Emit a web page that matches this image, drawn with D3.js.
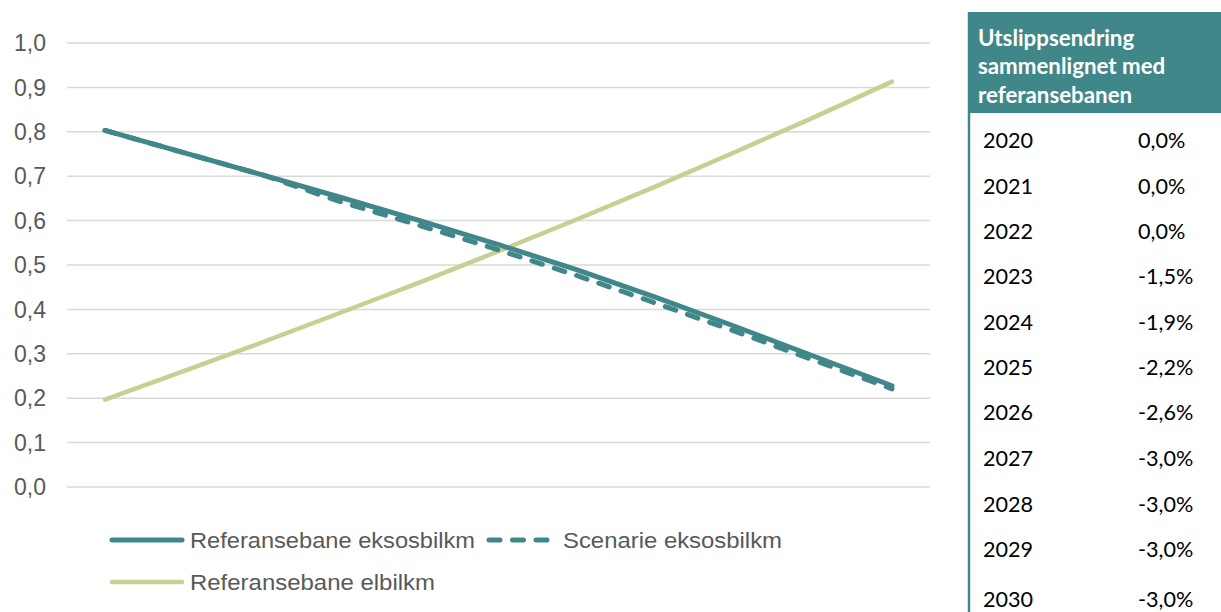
<!DOCTYPE html>
<html>
<head>
<meta charset="utf-8">
<script src="https://cdn.jsdelivr.net/npm/d3@7"></script>
<style>
  html, body { margin: 0; padding: 0; background: #fff; }
  svg { display: block; }
</style>
</head>
<body>
<svg id="chart" width="1221" height="612"></svg>
<script>
// ---- data ----
const years = [2020, 2021, 2022, 2023, 2024, 2025, 2026, 2027, 2028, 2029, 2030];
const refEksos = [0.803, 0.753, 0.703, 0.652, 0.600, 0.546, 0.489, 0.427, 0.362, 0.295, 0.228];
const scenEksos = [0.803, 0.753, 0.703, 0.642, 0.589, 0.534, 0.476, 0.414, 0.351, 0.286, 0.221];
const refEl = [0.197, 0.261, 0.326, 0.393, 0.461, 0.531, 0.603, 0.677, 0.754, 0.832, 0.913];
const yTicks = [0, 0.1, 0.2, 0.3, 0.4, 0.5, 0.6, 0.7, 0.8, 0.9, 1.0];
const seriesNames = ["Referansebane eksosbilkm", "Scenarie eksosbilkm", "Referansebane elbilkm"];
const tableTitle = ["Utslippsendring", "sammenlignet med", "referansebanen"];
const tableYears = ["2020", "2021", "2022", "2023", "2024", "2025", "2026", "2027", "2028", "2029", "2030"];
const tableValues = ["0,0%", "0,0%", "0,0%", "-1,5%", "-1,9%", "-2,2%", "-2,6%", "-3,0%", "-3,0%", "-3,0%", "-3,0%"];

// ---- styles ----
const teal = "#40878a";
const green = "#c8cf91";
const grid = "#d9d9d9";
const axisText = "#595959";

const svg = d3.select("#chart");

const x = d3.scalePoint().domain(years).range([105, 892]);
const y = d3.scaleLinear().domain([0, 1]).range([487, 43]);

// gridlines
svg.append("g").selectAll("line").data(yTicks).join("line")
  .attr("x1", 67).attr("x2", 930)
  .attr("y1", d => y(d)).attr("y2", d => y(d))
  .attr("stroke", grid).attr("stroke-width", 1.5);

// y axis labels
const fmt = d => d3.format(".1f")(d).replace(".", ",");
svg.append("g").selectAll("text").data(yTicks).join("text")
  .attr("x", 46).attr("y", d => y(d)).attr("dy", "0.36em")
  .attr("text-anchor", "end")
  .attr("font-family", "Liberation Sans, Arial, sans-serif")
  .attr("font-size", 23).attr("fill", axisText)
  .text(fmt);

const line = d3.line().x((d, i) => x(years[i])).y(d => y(d));

// lines
svg.append("path").datum(refEl).attr("d", line)
  .attr("fill", "none").attr("stroke", green).attr("stroke-width", 4.5)
  .attr("stroke-linecap", "round").attr("stroke-linejoin", "round");
svg.append("path").datum(scenEksos).attr("d", line)
  .attr("fill", "none").attr("stroke", teal).attr("stroke-width", 5)
  .attr("stroke-dasharray", "11,12.5")
  .attr("stroke-linecap", "round").attr("stroke-linejoin", "round");
svg.append("path").datum(refEksos).attr("d", line)
  .attr("fill", "none").attr("stroke", teal).attr("stroke-width", 5)
  .attr("stroke-linecap", "round").attr("stroke-linejoin", "round");

// legend
const lg = svg.append("g")
  .attr("font-family", "Liberation Sans, Arial, sans-serif")
  .attr("font-size", 22.5).attr("fill", axisText);
const legendItems = [
  { name: seriesNames[0], color: teal, dash: null, x1: 112, x2: 182, tx: 190, y: 540, w: 5, len: 285 },
  { name: seriesNames[1], color: teal, dash: "11,12.5", x1: 489, x2: 548, tx: 563, y: 540, w: 5, len: 219 },
  { name: seriesNames[2], color: green, dash: null, x1: 112, x2: 182, tx: 190, y: 582, w: 4.5, len: 245 }
];
legendItems.forEach(it => {
  lg.append("line").attr("x1", it.x1).attr("x2", it.x2).attr("y1", it.y).attr("y2", it.y)
    .attr("stroke", it.color).attr("stroke-width", it.w).attr("stroke-linecap", "round")
    .attr("stroke-dasharray", it.dash);
  lg.append("text").attr("x", it.tx).attr("y", it.y + 8)
    .attr("textLength", it.len).attr("lengthAdjust", "spacingAndGlyphs")
    .text(it.name);
});

// table
const tg = svg.append("g");
tg.append("rect").attr("x", 968).attr("y", 12).attr("width", 253).attr("height", 101).attr("fill", teal);
tg.append("line").attr("x1", 969).attr("x2", 969).attr("y1", 12).attr("y2", 612)
  .attr("stroke", teal).attr("stroke-width", 2.5);
tg.selectAll("text.h").data(tableTitle).join("text").attr("class", "h")
  .attr("x", 978).attr("y", (d, i) => 46 + i * 28.3)
  .attr("font-family", "Lato, sans-serif").attr("font-weight", "bold")
  .attr("font-size", 22.3).attr("fill", "#fff").text(d => d);
const rowY = [148.3, 193.5, 238.6, 284, 329.5, 375, 420.2, 465.7, 511.5, 556.7, 606.7];
tg.selectAll("text.yr").data(tableYears).join("text").attr("class", "yr")
  .attr("x", 983).attr("y", (d, i) => rowY[i])
  .attr("font-family", "Lato, sans-serif").attr("font-size", 21.6).attr("fill", "#000").text(d => d);
tg.selectAll("text.val").data(tableValues).join("text").attr("class", "val")
  .attr("x", 1138).attr("y", (d, i) => rowY[i])
  .attr("font-family", "Lato, sans-serif").attr("font-size", 21.6).attr("fill", "#000").text(d => d);
</script>
</body>
</html>
